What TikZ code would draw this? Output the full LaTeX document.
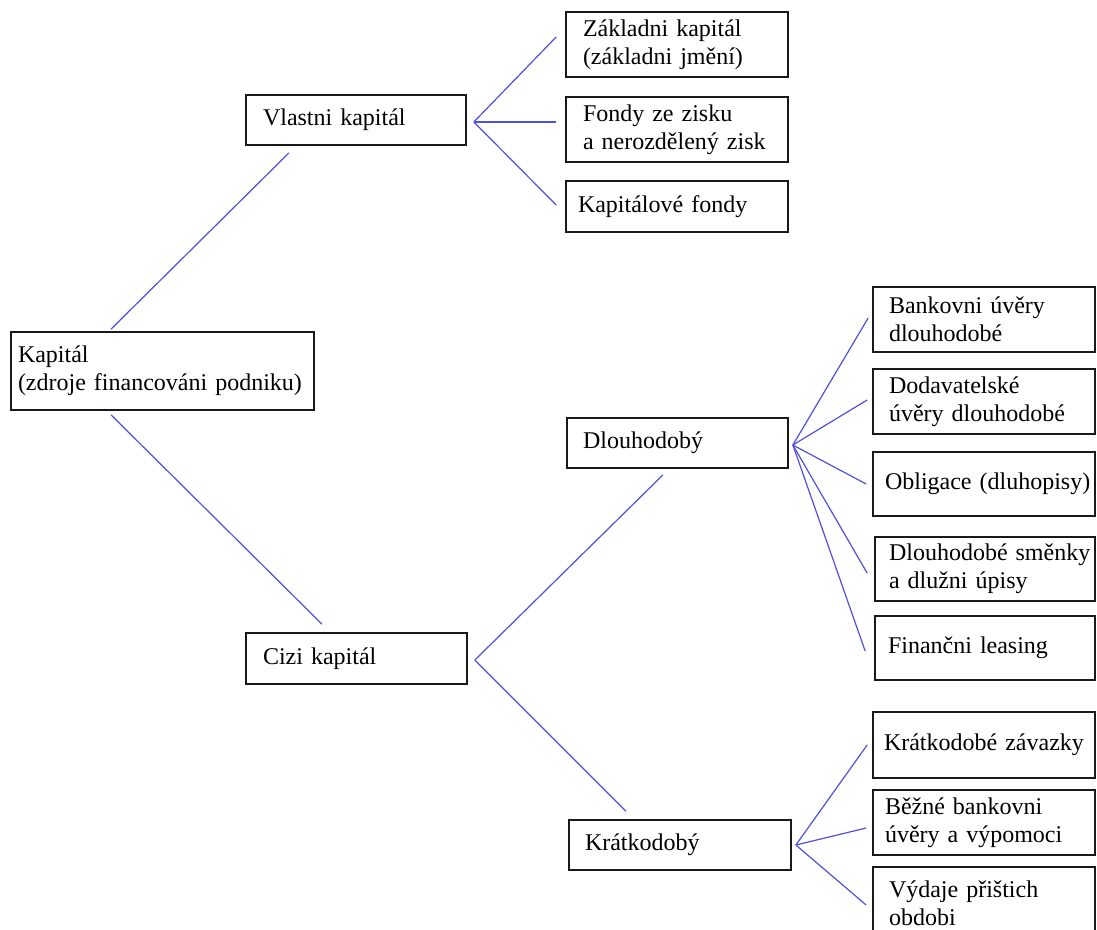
\documentclass[tikz,border=0pt]{standalone}
\usepackage{fontspec}
\setmainfont{Liberation Serif}
\usetikzlibrary{calc}
\definecolor{linkblue}{RGB}{80,80,220}
\begin{document}
\begin{tikzpicture}[x=1pt,y=-1pt,
  box/.style={draw=black!90, line width=1.7pt, rectangle, inner ysep=0pt,
    align=left, font=\fontsize{24}{28}\selectfont},
  link/.style={draw=linkblue, line width=1.2pt}]
\useasboundingbox (0,0) rectangle (1097,929);

% level 0
\node[box, minimum height=78pt, inner xsep=7pt, text width=289pt] (kap) at (162.5,371)
  {Kapitál\\(zdroje~financováni~podniku)};
% level 1
\node[box, minimum height=50pt, inner xsep=17pt, text width=186pt] (vl) at (356,120) {Vlastni kapitál};
\node[box, minimum height=51pt, inner xsep=17pt, text width=187pt] (ck) at (356.5,658.5) {Cizi kapitál};
% vlastni children
\node[box, minimum height=65pt, inner xsep=17pt, text width=188pt] (zk) at (677,44.5) {Základni~kapitál\\(základni~jmění)};
\node[box, minimum height=65pt, inner xsep=17pt, text width=188pt] (fz) at (677,129.5) {Fondy~ze~zisku\\a~nerozdělený~zisk};
\node[box, minimum height=51pt, inner xsep=12pt, text width=198pt] (kf) at (677,206.5) {Kapitálové~fondy};
% cizi children
\node[box, minimum height=50pt, inner xsep=16pt, text width=189pt] (dl) at (677.5,443) {Dlouhodobý};
\node[box, minimum height=50pt, inner xsep=16pt, text width=190pt] (kr) at (680,845) {Krátkodobý};
% dlouhodoby children
\node[box, minimum height=65pt, inner xsep=16pt, text width=190pt] (bu) at (984,319.5) {Bankovni~úvěry\\dlouhodobé};
\node[box, minimum height=65pt, inner xsep=16pt, text width=190pt] (du) at (984,401.5) {Dodavatelské\\úvěry~dlouhodobé};
\node[box, minimum height=64pt, inner xsep=12pt, text width=198pt] (ob) at (984,484) {Obligace~(dluhopisy)};
\node[box, minimum height=64pt, inner xsep=14pt, text width=192pt] (ds) at (985,569) {Dlouhodobé~směnky\\a~dlužni~úpisy};
\node[box, minimum height=64pt, inner xsep=13pt, text width=194pt] (fl) at (985,648) {Finančni~leasing};
% kratkodoby children
\node[box, minimum height=66pt, inner xsep=11pt, text width=200pt] (kz) at (984,745) {Krátkodobé~závazky};
\node[box, minimum height=65pt, inner xsep=12pt, text width=198pt] (bb) at (984,822.5) {Běžné~bankovni\\úvěry~a~výpomoci};
\node[box, minimum height=72pt, inner xsep=16pt, text width=190pt] (vy) at (984,903) {Výdaje~přištich\\obdobi};

% fan origins
\coordinate (vlo) at ($(vl.east)+(7,2)$);
\coordinate (cko) at ($(ck.east)+(7,1.5)$);
\coordinate (dlo) at ($(dl.east)+(4,2)$);
\coordinate (kro) at ($(kr.east)+(4,0)$);

% connectors
\draw[link] ($(kap.north)+(-51.5,-2)$) -- ($(vl.south)+(-67,7)$);
\draw[link] ($(kap.south)+(-51.5,4)$) -- ($(ck.north)+(-34.5,-8)$);

\draw[link] (vlo) -- ($(zk.west)+(-9,-7.5)$);
\draw[link] (vlo) -- ($(fz.west)+(-9,-7.5)$);
\draw[link] (vlo) -- ($(kf.west)+(-9,-1.5)$);

\draw[link] (cko) -- ($(dl.south)+(-14.5,6)$);
\draw[link] (cko) -- ($(kr.north)+(-54,-8)$);

\draw[link] (dlo) -- ($(bu.west)+(-4,-1.5)$);
\draw[link] (dlo) -- ($(du.west)+(-5,-1.5)$);
\draw[link] (dlo) -- ($(ob.west)+(-6,0)$);
\draw[link] (dlo) -- ($(ds.west)+(-7,4)$);
\draw[link] (dlo) -- ($(fl.west)+(-9,3)$);

\draw[link] (kro) -- ($(kz.west)+(-5,0)$);
\draw[link] (kro) -- ($(bb.west)+(-6,5.5)$);
\draw[link] (kro) -- ($(vy.west)+(-6,2)$);
\end{tikzpicture}
\end{document}
